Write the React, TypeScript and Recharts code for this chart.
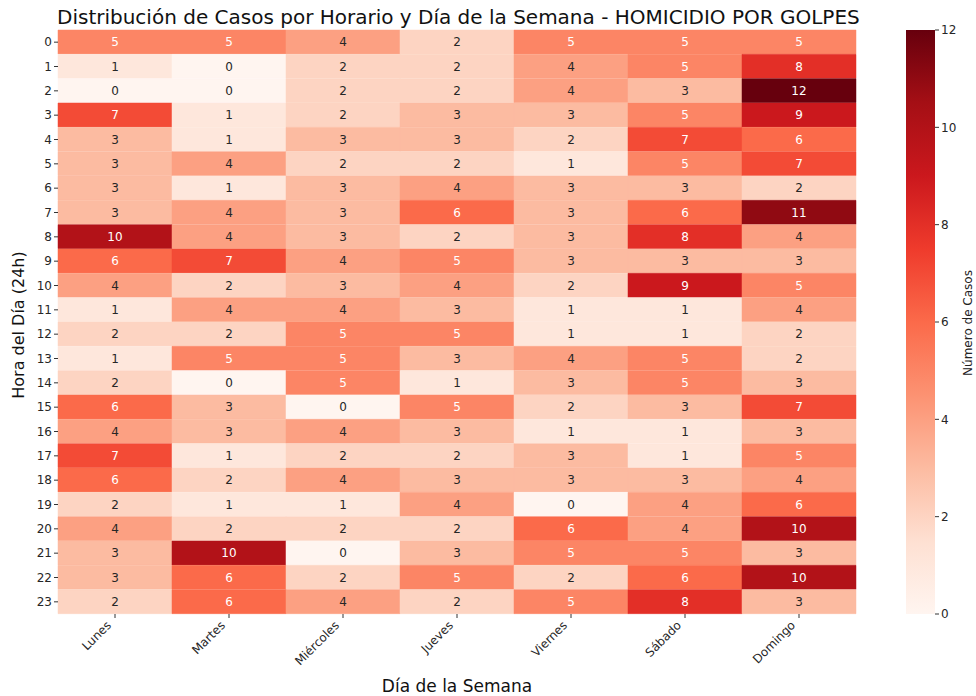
import React from "react";
import { BarChart, Bar, XAxis, YAxis, Cell, LabelList } from "recharts";

const days = ["Lunes", "Martes", "Miércoles", "Jueves", "Viernes", "Sábado", "Domingo"];
const hours = Array.from({ length: 24 }, (_, h) => String(h));

// casos por hora (0..23) para cada día
const lunes = [5, 1, 0, 7, 3, 3, 3, 3, 10, 6, 4, 1, 2, 1, 2, 6, 4, 7, 6, 2, 4, 3, 3, 2];
const martes = [5, 0, 0, 1, 1, 4, 1, 4, 4, 7, 2, 4, 2, 5, 0, 3, 3, 1, 2, 1, 2, 10, 6, 6];
const miercoles = [4, 2, 2, 2, 3, 2, 3, 3, 3, 4, 3, 4, 5, 5, 5, 0, 4, 2, 4, 1, 2, 0, 2, 4];
const jueves = [2, 2, 2, 3, 3, 2, 4, 6, 2, 5, 4, 3, 5, 3, 1, 5, 3, 2, 3, 4, 2, 3, 5, 2];
const viernes = [5, 4, 4, 3, 2, 1, 3, 3, 3, 3, 2, 1, 1, 4, 3, 2, 1, 3, 3, 0, 6, 5, 2, 5];
const sabado = [5, 5, 3, 5, 7, 5, 3, 6, 8, 3, 9, 1, 1, 5, 5, 3, 1, 1, 3, 4, 4, 5, 6, 8];
const domingo = [5, 8, 12, 9, 6, 7, 2, 11, 4, 3, 5, 4, 2, 2, 3, 7, 3, 5, 4, 6, 10, 3, 10, 3];

const counts = [lunes, martes, miercoles, jueves, viernes, sabado, domingo];
const colorTicks = [0, 2, 4, 6, 8, 10, 12];
const VMAX = 12;

const REDS = ["#fff5f0", "#fee0d2", "#fcbba1", "#fc9272", "#fb6a4a", "#ef3b2c", "#cb181d", "#a50f15", "#67000d"];
const FONT = "'DejaVu Sans', sans-serif";

const hexToRgb = (h: string) => [1, 3, 5].map((i) => parseInt(h.slice(i, i + 2), 16));

const redsRgb = (v: number) => {
  const t = Math.max(0, Math.min(1, v / VMAX)) * (REDS.length - 1);
  const i = Math.min(REDS.length - 2, Math.floor(t));
  const f = t - i;
  const a = hexToRgb(REDS[i]);
  const b = hexToRgb(REDS[i + 1]);
  return a.map((c, k) => Math.round(c + (b[k] - c) * f));
};

const redsColor = (v: number) => {
  const [r, g, b] = redsRgb(v);
  return `rgb(${r},${g},${b})`;
};

const textColor = (v: number) => {
  const lum = redsRgb(v)
    .map((c) => {
      const s = c / 255;
      return s <= 0.03928 ? s / 12.92 : Math.pow((s + 0.055) / 1.055, 2.4);
    })
    .reduce((acc, c, k) => acc + c * [0.2126, 0.7152, 0.0722][k], 0);
  return lum > 0.408 ? "#262626" : "#ffffff";
};

const rows = hours.map((hour, h) => {
  const row: Record<string, string | number> = { hour };
  days.forEach((_, d) => {
    row[`d${d}`] = 1;
    row[`v${d}`] = counts[d][h];
  });
  return row;
});

const CellLabel = (props: any) => {
  const { x, y, width, height, value } = props;
  return (
    <text
      x={Number(x) + Number(width) / 2}
      y={Number(y) + Number(height) / 2}
      dy="0.36em"
      textAnchor="middle"
      fontSize={12}
      fontFamily={FONT}
      fill={textColor(Number(value))}
    >
      {value}
    </text>
  );
};

const DayTick = (props: any) => {
  const { x, y, payload } = props;
  const label = days[Math.floor(payload.value)];
  return (
    <g transform={`translate(${x - 3},${y + 6})`}>
      <text transform="rotate(-45)" textAnchor="end" fontSize={12} fontFamily={FONT} fill="#262626">
        {label}
      </text>
    </g>
  );
};

const App: React.FC = () => {
  return (
    <div style={{ position: "absolute", left: 0, top: 0, width: 976, height: 696, background: "#fff", fontFamily: FONT }}>
      <div
        style={{
          position: "absolute",
          left: 57,
          width: 800,
          top: 5,
          textAlign: "center",
          fontSize: 20,
          color: "#111",
          whiteSpace: "nowrap",
        }}
      >
        Distribución de Casos por Horario y Día de la Semana - HOMICIDIO POR GOLPES
      </div>

      <div style={{ position: "absolute", left: 0, top: 0 }}>
        <BarChart
          width={976}
          height={696}
          data={rows}
          layout="vertical"
          barCategoryGap={0}
          barGap={0}
          margin={{ top: 30, right: 120, bottom: 22, left: 18 }}
        >
          <XAxis
            type="number"
            domain={[0, 7]}
            ticks={[0.5, 1.5, 2.5, 3.5, 4.5, 5.5, 6.5]}
            axisLine={false}
            tickLine={{ stroke: "#333" }}
            tickSize={4}
            height={60}
            tick={<DayTick />}
            interval={0}
          />
          <YAxis
            type="category"
            dataKey="hour"
            width={40}
            axisLine={false}
            tickLine={{ stroke: "#333" }}
            tickSize={4}
            interval={0}
            tick={{ fontSize: 12, fill: "#262626", fontFamily: FONT }}
          />
          {days.map((day, d) => (
            <Bar key={day} dataKey={`d${d}`} stackId="grid" isAnimationActive={false}>
              {counts[d].map((v, h) => (
                <Cell key={h} fill={redsColor(v)} stroke={redsColor(v)} strokeWidth={0.5} />
              ))}
              <LabelList dataKey={`v${d}`} content={<CellLabel />} />
            </Bar>
          ))}
        </BarChart>
      </div>

      <div style={{ position: "absolute", left: 906, top: 0 }}>
        <BarChart
          width={70}
          height={696}
          data={[{ name: "escala", value: VMAX }]}
          barCategoryGap={0}
          margin={{ top: 30, right: 0, bottom: 82, left: 0 }}
        >
          <defs>
            <linearGradient id="redsGrad" x1="0" y1="1" x2="0" y2="0">
              {REDS.map((c, i) => (
                <stop key={c} offset={i / (REDS.length - 1)} stopColor={c} />
              ))}
            </linearGradient>
          </defs>
          <XAxis dataKey="name" hide />
          <YAxis
            orientation="right"
            type="number"
            domain={[0, VMAX]}
            ticks={colorTicks}
            width={41}
            axisLine={false}
            tickLine={{ stroke: "#333" }}
            tickSize={4}
            tick={{ fontSize: 12, fill: "#262626", fontFamily: FONT }}
          />
          <Bar dataKey="value" fill="url(#redsGrad)" isAnimationActive={false} />
        </BarChart>
      </div>

      <div
        style={{
          position: "absolute",
          left: 968,
          top: 323,
          transform: "translate(-50%, -50%) rotate(-90deg)",
          fontSize: 12,
          color: "#222",
          whiteSpace: "nowrap",
        }}
      >
        Número de Casos
      </div>

      <div
        style={{
          position: "absolute",
          left: 18,
          top: 325,
          transform: "translate(-50%, -50%) rotate(-90deg)",
          fontSize: 16,
          color: "#111",
          whiteSpace: "nowrap",
        }}
      >
        Hora del Día (24h)
      </div>

      <div
        style={{
          position: "absolute",
          left: 57,
          width: 800,
          top: 676,
          textAlign: "center",
          fontSize: 17,
          color: "#111",
          whiteSpace: "nowrap",
        }}
      >
        Día de la Semana
      </div>
    </div>
  );
};

export default App;
